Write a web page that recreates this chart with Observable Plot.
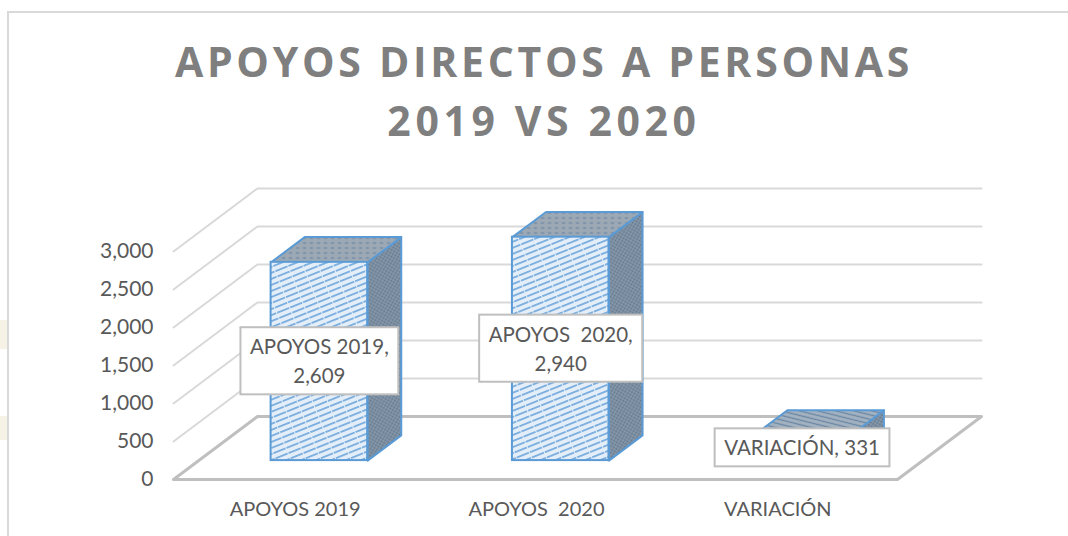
<!DOCTYPE html>
<html><head><meta charset="utf-8">
<script src="https://cdn.jsdelivr.net/npm/d3@7"></script>
<script src="https://cdn.jsdelivr.net/npm/@observablehq/plot@0.6"></script>
<style>
html,body{margin:0;padding:0;background:#fff;width:1068px;height:536px;overflow:hidden}
#page{position:relative;width:1068px;height:536px;font-family:Lato,"Open Sans",sans-serif}
#frameT{position:absolute;left:8px;top:11px;right:0;height:2px;background:#d9d9d9}
#frameL{position:absolute;left:7px;top:11px;bottom:0;width:2px;background:#d9d9d9}
.blot{position:absolute;left:0;width:7px;background:#f6f2e6}
#title{position:absolute;left:20px;right:0;top:32px;text-align:center;color:#7f7f7f;font-family:"Open Sans",sans-serif;font-weight:700;font-size:41px;line-height:59px;letter-spacing:3.7px;white-space:pre}
#title span{letter-spacing:4.6px}
#chart{position:absolute;left:0;top:150px}
#chart svg text{white-space:pre}
</style></head><body>
<div id="page">
<div id="frameT"></div><div id="frameL"></div>
<div class="blot" style="top:320px;height:29px"></div>
<div class="blot" style="top:416px;height:24px"></div>
<div id="title">APOYOS DIRECTOS A PERSONAS
<span>2019 VS 2020</span></div>
<div id="chart"></div>
</div>
<script>
const categories = ["APOYOS 2019", "APOYOS  2020", "VARIACIÓN"];
const values = [2609, 2940, 331];
const valueLabels = ["2,609", "2,940", "331"];
const labelBreaks = ["\n", "\n", " "];
const valueTicks = [0, 500, 1000, 1500, 2000, 2500, 3000];
const categoryTicks = [0.5, 1.5, 2.5];

// Oblique projection of the 3D box: depth 0..1 shifts x (category units) and y (value units)
const depthX = 0.348, depthY = 829;
const barDepth = [0.3, 0.7], barSpan = [0.3, 0.7];
const pt = (c, v, d) => ({x: c + d * depthX, y: v + d * depthY});

const gridLines = valueTicks.slice(1).map(v => [pt(0, v, 0), pt(0, v, 1), pt(categories.length, v, 1)].map(p => ({...p, v}))).flat();
const floor = [pt(0, 0, 0), pt(0, 0, 1), pt(3, 0, 1), pt(3, 0, 0), pt(0, 0, 0)];

const bars = categories.map((name, i) => {
  const c0 = i + barSpan[0], c1 = i + barSpan[1], v = values[i], [d0, d1] = barDepth;
  const f0 = pt(c0, 0, d0), f1 = pt(c1, v, d0);
  return {
    name, i, v,
    x1: f0.x, x2: f1.x, y1: f0.y, y2: f1.y,
    top: [pt(c0, v, d0), pt(c0, v, d1), pt(c1, v, d1), pt(c1, v, d0), pt(c0, v, d0)].map(p => ({...p, i})),
    side: [pt(c1, 0, d0), pt(c1, 0, d1), pt(c1, v, d1), pt(c1, v, d0), pt(c1, 0, d0)].map(p => ({...p, i})),
    lx: (f0.x + f1.x) / 2, ly: (f0.y + f1.y) / 2,
    label: name + "," + labelBreaks[i] + valueLabels[i]
  };
});

const defs = () => {
  const s = d3.create("svg:defs");
  const front = s.append("pattern").attr("id", "pFront").attr("patternUnits", "userSpaceOnUse")
    .attr("width", 14).attr("height", 5.6).attr("patternTransform", "rotate(-22)");
  front.append("rect").attr("width", 14).attr("height", 5.6).attr("fill", "#e3eef9");
  front.append("rect").attr("y", 1.9).attr("width", 13).attr("height", 1.7).attr("fill", "#74aadc");
  const side = s.append("pattern").attr("id", "pSide").attr("patternUnits", "userSpaceOnUse")
    .attr("width", 3).attr("height", 3).attr("patternTransform", "rotate(30)");
  side.append("rect").attr("width", 3).attr("height", 3).attr("fill", "#8a98a6");
  side.append("circle").attr("cx", 1.5).attr("cy", 1.5).attr("r", 1).attr("fill", "#5b7693");
  const top = s.append("pattern").attr("id", "pTop").attr("patternUnits", "userSpaceOnUse")
    .attr("width", 7).attr("height", 5);
  top.append("rect").attr("width", 7).attr("height", 5).attr("fill", "#9ca8b4");
  top.append("ellipse").attr("cx", 3).attr("cy", 2.5).attr("rx", 1.8).attr("ry", 0.8).attr("fill", "#6a86a2");
  const flat = s.append("pattern").attr("id", "pTopFlat").attr("patternUnits", "userSpaceOnUse")
    .attr("width", 8).attr("height", 4.4).attr("patternTransform", "rotate(14)");
  flat.append("rect").attr("width", 8).attr("height", 4.4).attr("fill", "#a3b2c1");
  flat.append("rect").attr("y", 1.5).attr("width", 8).attr("height", 1.3).attr("fill", "#6a86a2");
  return s.node();
};

const blue = "#5b9bd5";
const plot = Plot.plot({
  width: 1068, height: 386,
  marginLeft: 173, marginRight: 87, marginTop: 38, marginBottom: 57,
  style: {background: "transparent", fontFamily: "Lato, 'Open Sans', sans-serif", fontSize: "20px", color: "#595959", overflow: "visible"},
  x: {domain: [0, categories.length + depthX]},
  y: {domain: [0, 3000 + depthY]},
  marks: [
    defs,
    Plot.line(gridLines, {x: "x", y: "y", z: "v", stroke: "#d9d9d9", strokeWidth: 2}),
    Plot.line(floor, {x: "x", y: "y", stroke: "#bfbfbf", strokeWidth: 3}),
    Plot.line(bars.flatMap(b => b.side), {x: "x", y: "y", z: "i", fill: "url(#pSide)", stroke: blue, strokeWidth: 2}),
    Plot.line(bars.slice(0, 2).flatMap(b => b.top), {x: "x", y: "y", z: "i", fill: "url(#pTop)", stroke: blue, strokeWidth: 2}),
    Plot.line(bars[2].top, {x: "x", y: "y", fill: "url(#pTopFlat)", stroke: blue, strokeWidth: 2}),
    Plot.rect(bars, {x1: "x1", x2: "x2", y1: "y1", y2: "y2", fill: "url(#pFront)", stroke: blue, strokeWidth: 2}),
    Plot.axisY({ticks: valueTicks, tickFormat: d3.format(","), tickSize: 0, tickPadding: 20, label: null, fontSize: 21}),
    Plot.axisX({ticks: categoryTicks, tickFormat: d => categories[Math.floor(d)], tickSize: 0, tickPadding: 22, label: null, fontSize: 20, dx: 1}),
    Plot.text(bars, {x: "lx", y: "ly", dy: -2, text: "label", fontSize: 20.5, lineHeight: 1.42, className: "dlabel", fill: "#595959"})
  ]
});
document.getElementById("chart").append(plot);

// White label boxes sized from the rendered text
d3.select(plot).selectAll(".dlabel text").each(function() {
  const b = this.getBBox(), padX = 9.5, padY = 7;
  d3.select(this.parentNode).insert("rect", () => this)
    .attr("transform", this.getAttribute("transform"))
    .attr("x", b.x - padX).attr("y", b.y - padY)
    .attr("width", b.width + 2 * padX).attr("height", b.height + 2 * padY)
    .attr("fill", "#fff").attr("stroke", "#bfbfbf").attr("stroke-width", 2);
});
</script>
</body></html>
